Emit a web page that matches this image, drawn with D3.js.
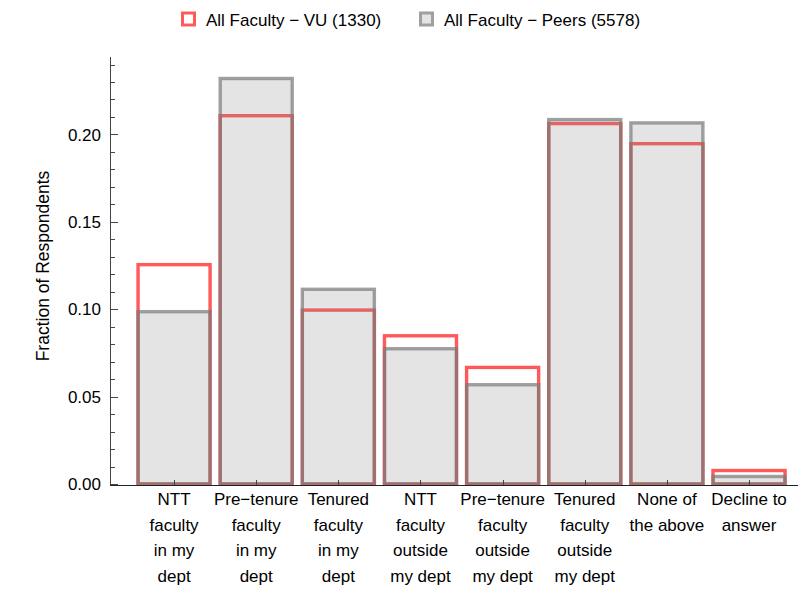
<!DOCTYPE html>
<html>
<head>
<meta charset="utf-8">
<script src="https://cdn.jsdelivr.net/npm/d3@7/dist/d3.min.js"></script>
<style>
  html, body { margin: 0; padding: 0; background: #fff; }
  svg { display: block; }
  text { font-family: "Liberation Sans", Arial, sans-serif; fill: #000; }
</style>
</head>
<body>
<svg id="chart" width="798" height="601"></svg>
<script>
const categories = [
  "NTT\nfaculty\nin my\ndept",
  "Pre\u2212tenure\nfaculty\nin my\ndept",
  "Tenured\nfaculty\nin my\ndept",
  "NTT\nfaculty\noutside\nmy dept",
  "Pre\u2212tenure\nfaculty\noutside\nmy dept",
  "Tenured\nfaculty\noutside\nmy dept",
  "None of\nthe above",
  "Decline to\nanswer"
];
const vuValues    = [0.1255, 0.2107, 0.0995, 0.0848, 0.0667, 0.2062, 0.1947, 0.0077];
const peersValues = [0.0986, 0.2320, 0.1114, 0.0774, 0.0568, 0.2085, 0.2066, 0.0043];
const seriesNames = ["All Faculty \u2212 VU (1330)", "All Faculty \u2212 Peers (5578)"];
const yMajorTicks = [0, 0.05, 0.10, 0.15, 0.20];
const yMinorTicks = [0.01,0.02,0.03,0.04,0.06,0.07,0.08,0.09,0.11,0.12,0.13,0.14,0.16,0.17,0.18,0.19,0.21,0.22,0.23,0.24];

const svg = d3.select("#chart");
const x0 = 110, yBase = 484, yTop = 57;
const fs = 17;
const y = d3.scaleLinear().domain([0, 0.2443]).range([yBase, yTop]);
const x = d3.scaleBand().domain(categories).range([133, 790.1]).paddingInner(0).paddingOuter(0);
const barW = x.bandwidth() * 0.877;

const red = "#ff5a5a";
const grayStroke = "rgb(121,121,121)";
const grayFill = "rgb(132,132,132)";

// VU bars (drawn first)
svg.append("g").selectAll("rect").data(categories).join("rect")
  .attr("x", d => x(d) + (x.bandwidth() - barW) / 2)
  .attr("y", (d, i) => y(vuValues[i]))
  .attr("width", barW)
  .attr("height", (d, i) => yBase - y(vuValues[i]))
  .attr("fill", "none")
  .attr("stroke", red)
  .attr("stroke-width", 3.4);

// Peers bars (drawn on top, translucent)
svg.append("g").selectAll("rect").data(categories).join("rect")
  .attr("x", d => x(d) + (x.bandwidth() - barW) / 2)
  .attr("y", (d, i) => y(peersValues[i]))
  .attr("width", barW)
  .attr("height", (d, i) => yBase - y(peersValues[i]))
  .attr("fill", grayFill)
  .attr("fill-opacity", 0.22)
  .attr("stroke", grayStroke)
  .attr("stroke-opacity", 0.7)
  .attr("stroke-width", 3.4);

// Y axis
const yAxisG = svg.append("g");
yAxisG.append("line").attr("x1", x0 + 0.5).attr("x2", x0 + 0.5).attr("y1", yTop).attr("y2", yBase + 1)
  .attr("stroke", "#444").attr("stroke-width", 1);
yAxisG.selectAll("line.maj").data(yMajorTicks).join("line").attr("class", "maj")
  .attr("x1", x0).attr("x2", x0 + 8)
  .attr("y1", d => Math.round(y(d)) + 0.5).attr("y2", d => Math.round(y(d)) + 0.5)
  .attr("stroke", "#444");
yAxisG.selectAll("line.min").data(yMinorTicks).join("line").attr("class", "min")
  .attr("x1", x0).attr("x2", x0 + 5)
  .attr("y1", d => Math.round(y(d)) + 0.5).attr("y2", d => Math.round(y(d)) + 0.5)
  .attr("stroke", "#444");
yAxisG.selectAll("text").data(yMajorTicks).join("text")
  .attr("x", x0 - 9).attr("y", d => y(d))
  .attr("dy", "0.36em")
  .attr("text-anchor", "end")
  .attr("font-size", fs)
  .text(d => d3.format(".2f")(d));

// X axis
const xAxisG = svg.append("g");
xAxisG.append("line").attr("x1", x0).attr("x2", 798).attr("y1", yBase + 1.5).attr("y2", yBase + 1.5)
  .attr("stroke", "#222").attr("stroke-width", 1);
xAxisG.selectAll("line.tick").data(categories).join("line").attr("class", "tick")
  .attr("x1", d => Math.round(x(d) + x.bandwidth() / 2) + 0.5)
  .attr("x2", d => Math.round(x(d) + x.bandwidth() / 2) + 0.5)
  .attr("y1", yBase + 1).attr("y2", yBase - 4)
  .attr("stroke", "#444");
const lbl = xAxisG.selectAll("text").data(categories).join("text")
  .attr("text-anchor", "middle")
  .attr("font-size", fs);
lbl.each(function(d) {
  const t = d3.select(this);
  d.split("\n").forEach((line, k) => {
    t.append("tspan")
      .attr("x", x(d) + x.bandwidth() / 2)
      .attr("y", 505 + k * 25.5)
      .text(line);
  });
});

// Y title
svg.append("text")
  .attr("transform", "translate(49,266) rotate(-90)")
  .attr("text-anchor", "middle")
  .attr("font-size", 17.5)
  .text("Fraction of Respondents");

// Legend
const legend = svg.append("g");
const legX = [181, 419];
legend.append("rect").attr("x", legX[0] + 1.5).attr("y", 13).attr("width", 12).attr("height", 12)
  .attr("fill", "#fff").attr("stroke", red).attr("stroke-width", 3);
legend.append("rect").attr("x", legX[1] + 1.5).attr("y", 13).attr("width", 12).attr("height", 12)
  .attr("fill", "#e4e4e4").attr("stroke", "#a0a0a0").attr("stroke-width", 3);
legend.selectAll("text").data(seriesNames).join("text")
  .attr("x", (d, i) => legX[i] + 25)
  .attr("y", 19.5)
  .attr("dy", "0.36em")
  .attr("font-size", fs)
  .text(d => d);
</script>
</body>
</html>
